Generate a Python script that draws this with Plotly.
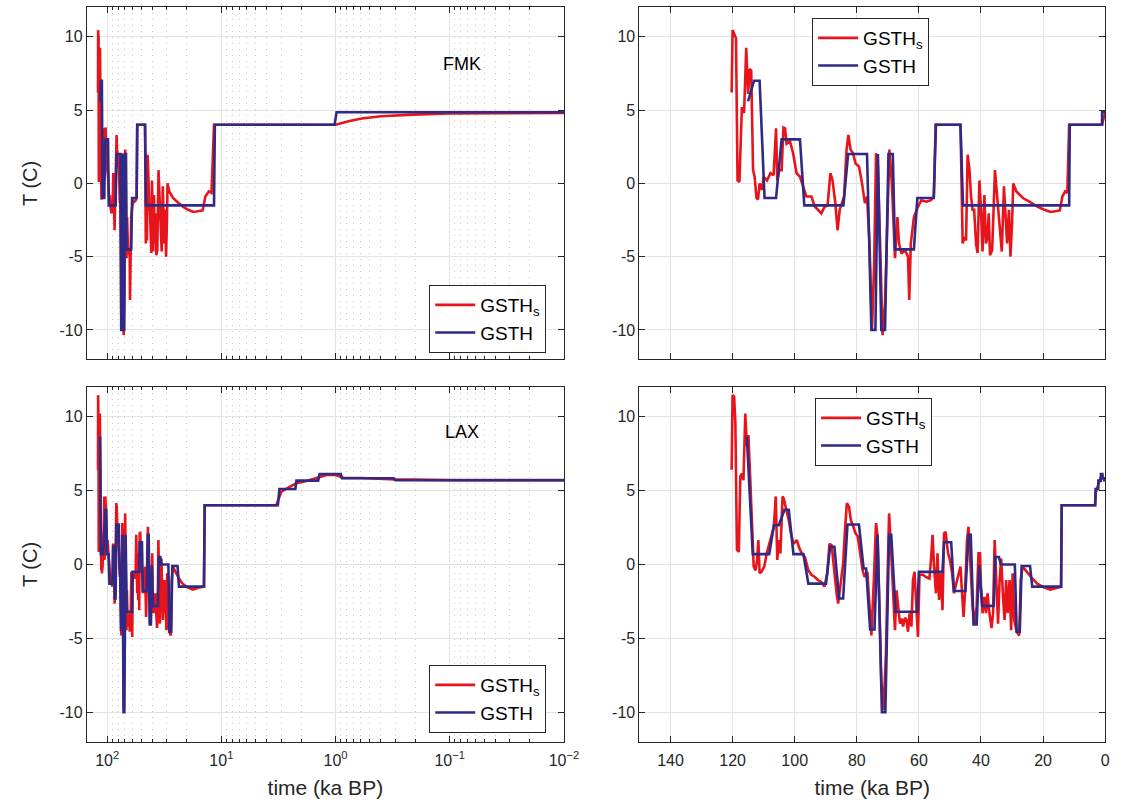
import numpy as np
import plotly.graph_objects as go

# ---------------- FMK ----------------
fmk_s_t = [120.3, 120.0, 119.5, 118.9, 118.4, 117.8, 117.0, 116.3, 115.6, 115.0, 114.5, 114.0,
           113.4, 112.9, 112.3, 111.8, 111.3, 110.5, 110.0, 108.9, 107.8, 106.8, 106.0, 105.6,
           105.0, 104.2, 103.6, 103.1, 102.6, 101.5, 100.5, 99.4, 98.3, 97.3, 96.2, 94.6, 93.5,
           92.5, 91.4, 90.4, 89.4, 88.5, 87.8, 86.9, 86.2, 85.5, 84.1, 83.3, 82.7, 82.0, 81.2,
           80.4, 79.3, 78.3, 77.4, 76.7, 75.9, 75.1, 74.4, 73.8, 73.2, 72.4, 71.7, 70.9, 70.0,
           69.5, 68.7, 68.0, 67.7, 66.9, 66.4, 65.6, 64.5, 63.5, 63.1, 62.6, 61.6, 60.3, 59.2,
           57.6, 56.1, 55.2, 54.6, 46.6, 45.9, 45.3, 44.8, 44.3, 43.7, 43.2, 42.7, 42.2, 41.6,
           41.1, 40.5, 40.0, 39.5, 38.9, 38.4, 37.9, 37.5, 37.1, 36.4, 35.5, 34.8, 33.9, 33.3,
           32.6, 32.1, 31.6, 31.0, 30.5, 30.0, 29.6, 28.6, 26.5, 24.4, 21.7, 19.6, 17.5, 14.6,
           13.8, 12.9, 12.2, 11.6, 1.0, 0.77, 0.59, 0.40, 0.21, 0.10, 0.03, 0.01]
fmk_s_T = [6.2, 10.45, 10.2, 9.9, 0.2, 0.1, 5.2, 4.8, 9.25, 6.1, 7.8, 7.7,
           0.9, 0.45, -1.0, -1.1, 0.0, -0.45, 0.45, 0.2, 0.7, 0.55, 3.75, 0.2,
           0.9, 0.9, 3.8, 3.75, 2.7, 2.85, 2.05, 0.7, 0.45, -0.2, -0.9, -0.9, -1.6,
           -1.8, -2.05, -1.6, -1.5, 0.7, 0.2, -1.35, -3.2, -1.8, -0.9, 2.3, 3.3, 2.3, 2.05,
           1.35, 1.15, 0.0, -1.35, -0.9, -4.1, -10.0, -5.45, 2.05, 1.15, -4.8, -10.35, -8.2, -1.8,
           2.3, 0.0, -4.1, -5.1, -2.3, -4.1, -4.8, -4.55, -5.0, -7.95, -4.1, -2.3, -1.6, -1.15,
           -1.25, -1.15, -0.9, 4.0, 4.0, -4.1, -3.65, -3.9, 1.95, 0.9, -0.9, -1.8, -1.8, -4.1,
           -4.75, 0.2, -1.8, -4.65, -0.8, -4.1, -3.65, -2.05, -4.9, -4.55, 0.9, -0.9, -3.65, -4.65,
           -0.2, -2.5, -4.1, -1.8, -5.0, -2.7, 0.0, -0.55, -1.0, -1.25, -1.6, -1.8, -1.95, -1.85,
           -0.9, -0.55, -0.65, 4.0, 4.0, 4.24, 4.42, 4.58, 4.69, 4.76, 4.79, 4.8]

fmk_t = [115.0, 113.1, 111.3, 109.7, 106.0, 104.2, 98.3, 96.9, 84.3, 82.8, 76.7, 75.3, 74.0,
         73.2, 72.1, 70.9, 69.8, 68.4, 67.7, 61.6, 60.5, 55.2, 54.5, 46.6, 45.8, 11.6, 11.4,
         1.02, 0.98, 0.01]
fmk_T = [5.6, 7.0, 7.0, -1.0, -1.0, 3.0, 3.0, -1.5, -1.5, 2.0, 2.0, -10.0, -10.0,
         2.0, -10.0, -10.0, 2.0, 2.0, -4.5, -4.5, -1.0, -1.0, 4.0, 4.0, -1.5, -1.5, 4.0,
         4.0, 4.85, 4.85]

# ---------------- LAX ----------------
lax_s_t = [120.3, 120.0, 119.5, 119.1, 118.6, 118.0, 117.5, 117.0, 116.5, 115.9, 115.4, 114.9,
           114.3, 113.7, 113.2, 112.6, 112.1, 111.7, 111.3, 110.7, 109.8, 109.0, 108.2, 107.5,
           106.7, 106.1, 105.6, 105.1, 104.6, 103.9, 103.5, 102.7, 101.9, 101.2, 100.4, 99.3,
           98.5, 97.7, 96.7, 95.6, 94.6, 93.5, 92.5, 91.4, 90.4, 89.5, 88.8, 88.1, 87.3, 86.5,
           86.0, 85.1, 84.4, 83.8, 83.2, 82.5, 81.9, 81.1, 80.4, 79.7, 78.8, 78.1, 77.5, 76.6,
           76.0, 75.3, 74.5, 73.8, 73.3, 72.7, 72.1, 71.4, 70.6, 70.1, 69.6, 68.9, 68.2, 67.7,
           67.2, 66.6, 66.1, 65.6, 65.1, 64.5, 64.0, 63.5, 63.0, 62.4, 61.9, 61.4, 60.8, 60.3,
           59.8, 58.7, 57.7, 56.6, 56.1, 55.6, 55.1, 54.5, 54.0, 53.5, 52.9, 52.4, 51.9, 51.4,
           50.6, 50.0, 49.3, 48.7, 47.7, 46.6, 46.1, 45.6, 45.1, 44.5, 44.0, 43.5, 42.7, 42.1,
           41.4, 40.8, 40.3, 40.0, 39.5, 38.9, 38.4, 37.9, 37.4, 36.6, 36.1, 35.6, 35.1, 34.5,
           34.0, 33.5, 32.9, 32.4, 31.9, 31.4, 30.8, 30.3, 29.8, 29.3, 28.5, 27.7, 27.2, 26.6,
           25.6, 24.5, 23.5, 21.9, 19.8, 17.7, 15.6, 14.2, 14.0, 3.3, 3.0, 2.6, 2.2, 1.8, 1.4,
           1.2, 1.0, 0.85, 0.6, 0.3, 0.1, 0.01]
lax_s_T = [6.4, 11.45, 11.35, 9.55, 1.0, 0.85, 5.95, 6.15, 5.7, 10.2, 8.0, 8.75,
           5.7, 1.65, -0.15, -0.4, 0.3, 1.65, -0.6, -0.5, -0.15, 0.75, 1.4, 1.9,
           2.55, 4.6, 0.3, 1.65, 0.75, 4.6, 4.45, 3.7, 3.0, 2.1, 1.4, 1.65,
           1.1, 0.75, 0.5, -0.4, -0.7, -0.85, -1.05, -1.2, -1.5, -0.6, 1.4, 1.3, -0.6, -1.95,
           -2.65, -1.05, 0.05, 2.3, 4.15, 3.9, 3.0, 2.55, 2.1, 1.9, 0.75, -0.4, -0.85, -0.5,
           -2.5, -4.8, -1.05, 2.8, 1.9, -3.3, -7.85, -9.85, -6.0, -1.05, 3.45, 0.75, -2.2, -4.45,
           -1.75, -3.3, -4.0, -3.65, -4.2, -3.6, -3.75, -4.55, -3.3, -4.2, -1.05, -0.5, -3.3, -4.9,
           -0.7, -0.7, -0.85, -0.95, 0.3, 2.0, -0.15, -1.95, 0.75, -2.4, -0.6, -3.1, 2.1, 2.2,
           0.75, 0.3, -0.6, -1.95, -1.05, -0.15, -1.95, -3.55, -1.75, 1.65, 2.55, 0.75, -2.85, -4.0,
           -2.85, 0.75, 0.75, -1.5, -3.3, -2.2, -3.3, -1.95, -3.1, -4.3, -3.3, 1.65, -1.05, -4.0,
           -1.05, 0.4, -2.2, -3.75, -1.05, -3.3, -1.05, -4.45, -0.6, -3.75, -4.55, -4.8, -1.05, -0.15,
           -0.4, -0.7, -0.95, -1.3, -1.55, -1.7, -1.55, -1.5, 4.0, 4.0, 4.9, 5.2, 5.5, 5.65, 5.9,
           6.05, 6.05, 5.85, 5.85, 5.75, 5.7, 5.7]

lax_t = [115.4, 113.5, 108.2, 106.7, 105.1, 103.3, 101.9, 100.4, 97.2, 95.6, 89.9, 88.6, 87.2,
         85.7, 84.4, 83.0, 79.3, 77.8, 77.0, 75.7, 74.3, 73.3, 71.9, 70.8, 69.6, 68.9, 67.5,
         60.5, 60.0, 52.4, 51.9, 49.6, 48.7, 45.0, 44.0, 43.3, 42.4, 41.4, 40.6, 39.6, 35.9,
         35.4, 34.2, 33.6, 29.1, 28.5, 27.5, 26.9, 24.2, 23.5, 14.2, 14.0, 3.2, 3.1, 2.25,
         2.2, 1.42, 1.38, 0.9, 0.88, 0.31, 0.30, 0.01]
lax_T = [8.65, 0.7, 0.7, 2.65, 2.65, 3.7, 3.7, 0.7, 0.7, -1.3, -1.3, 1.2, 1.2,
         -2.3, -2.3, 2.7, 2.7, -0.27, -0.27, -4.4, -4.4, 2.0, -10.0, -10.0, 2.0, 2.0, -3.2,
         -3.2, -0.5, -0.5, 1.5, 1.5, -1.8, -1.8, 2.0, 2.0, -4.05, -4.05, -0.05, -2.8, -2.8,
         0.5, 0.5, 0.0, 0.0, -4.55, -4.55, -0.1, -0.1, -1.5, -1.5, 4.0, 4.0, 5.1, 5.1,
         5.67, 5.67, 6.12, 6.12, 5.83, 5.83, 5.69, 5.69]

site_labels = ["FMK", "LAX"]
log_tickvals = [100, 10, 1, 0.1, 0.01]
log_ticktext = ["10<sup>2</sup>", "10<sup>1</sup>", "10<sup>0</sup>",
                "10<sup>\u22121</sup>", "10<sup>\u22122</sup>"]
lin_tickvals = [140, 120, 100, 80, 60, 40, 20, 0]
y_tickvals = [-10, -5, 0, 5, 10]
y_ticktext = ["-10", "-5", "0", "5", "10"]

RED = "#e8141c"
BLUE = "#2e2a86"
AX = "#262626"
GRID = "#e3e3e3"
FONT = "Liberation Sans, Arial, sans-serif"

fig = go.Figure()

# each panel: smoothed series, model series, axis suffix, legend id
panels = [
    (fmk_s_t, fmk_s_T, fmk_t, fmk_T, "", "legend"),
    (fmk_s_t, fmk_s_T, fmk_t, fmk_T, "2", "legend2"),
    (lax_s_t, lax_s_T, lax_t, lax_T, "3", "legend3"),
    (lax_s_t, lax_s_T, lax_t, lax_T, "4", "legend4"),
]
for st, sT, bt, bT, ax, leg in panels:
    fig.add_trace(go.Scatter(x=st, y=sT, mode="lines", name="GSTH<sub>s</sub>",
                             line=dict(color=RED, width=2.6), xaxis="x" + ax, yaxis="y" + ax,
                             legend=leg))
    fig.add_trace(go.Scatter(x=bt, y=bT, mode="lines", name="GSTH",
                             line=dict(color=BLUE, width=2.6), xaxis="x" + ax, yaxis="y" + ax,
                             legend=leg))

xl = [88 / 1134, 571.5 / 1134]
xr = [648 / 1134, 1120 / 1134]
yt = [1 - 359.3 / 810, 1 - 7.4 / 810]
yb = [1 - 741.9 / 810, 1 - 387.0 / 810]

minor_vals = [m * 10.0 ** k for k in range(-2, 2) for m in range(2, 10)]

common = dict(showline=True, linecolor=AX, linewidth=1, mirror="allticks", ticks="inside",
              ticklen=6, tickcolor=AX, tickwidth=1, showgrid=True, gridcolor=GRID, gridwidth=1,
              zeroline=False, tickfont=dict(family=FONT, size=16, color=AX))

def log_x(domain, anchor, labels, title=None):
    d = dict(common, type="log", range=[np.log10(150.7), -2], domain=domain, anchor=anchor,
             tickmode="array", tickvals=log_tickvals, ticktext=log_ticktext,
             showticklabels=labels, ticklabelstandoff=4,
             minor=dict(tickmode="array", tickvals=minor_vals, ticks="inside", ticklen=3,
                        tickcolor=AX, showgrid=True, gridcolor="#c8c8c8", griddash="1px,5px",
                        gridwidth=1))
    if title:
        d["title"] = dict(text=title, font=dict(family=FONT, size=21, color=AX), standoff=12)
    return d

def lin_x(domain, anchor, labels, title=None):
    d = dict(common, range=[150, 0], domain=domain, anchor=anchor, tickmode="array",
             tickvals=lin_tickvals, ticktext=[str(v) for v in lin_tickvals],
             showticklabels=labels, ticklabelstandoff=4)
    if title:
        d["title"] = dict(text=title, font=dict(family=FONT, size=21, color=AX), standoff=12)
    return d

def y_ax(domain, anchor, title=None):
    d = dict(common, range=[-12, 12], domain=domain, anchor=anchor, tickmode="array",
             tickvals=y_tickvals, ticktext=y_ticktext)
    if title:
        d["title"] = dict(text=title, font=dict(family=FONT, size=20, color=AX), standoff=16)
    return d

leg_style = dict(bgcolor="white", bordercolor=AX, borderwidth=1,
                 font=dict(family=FONT, size=19, color="black"),
                 xanchor="left", yanchor="top", tracegroupgap=0, itemwidth=40)

fig.update_layout(
    width=1134, height=810, margin=dict(l=0, r=0, t=0, b=0),
    paper_bgcolor="white", plot_bgcolor="white",
    xaxis=log_x(xl, "y", False), yaxis=y_ax(yt, "x", "T (C)"),
    xaxis2=lin_x(xr, "y2", False), yaxis2=y_ax(yt, "x2"),
    xaxis3=log_x(xl, "y3", True, "time (ka BP)"), yaxis3=y_ax(yb, "x3", "T (C)"),
    xaxis4=lin_x(xr, "y4", True, "time (ka BP)"), yaxis4=y_ax(yb, "x4"),
    legend=dict(leg_style, x=435 / 1134, y=1 - 285 / 810),
    legend2=dict(leg_style, x=823 / 1134, y=1 - 18 / 810),
    legend3=dict(leg_style, x=435 / 1134, y=1 - 665 / 810),
    legend4=dict(leg_style, x=826 / 1134, y=1 - 398 / 810),
    annotations=[
        dict(text=site_labels[0], x=468 / 1134, y=1 - 52 / 810, xref="paper", yref="paper",
             showarrow=False, font=dict(family=FONT, size=18, color="black")),
        dict(text=site_labels[1], x=468 / 1134, y=1 - 432 / 810, xref="paper", yref="paper",
             showarrow=False, font=dict(family=FONT, size=18, color="black")),
    ],
)

fig.write_html("out.html")
